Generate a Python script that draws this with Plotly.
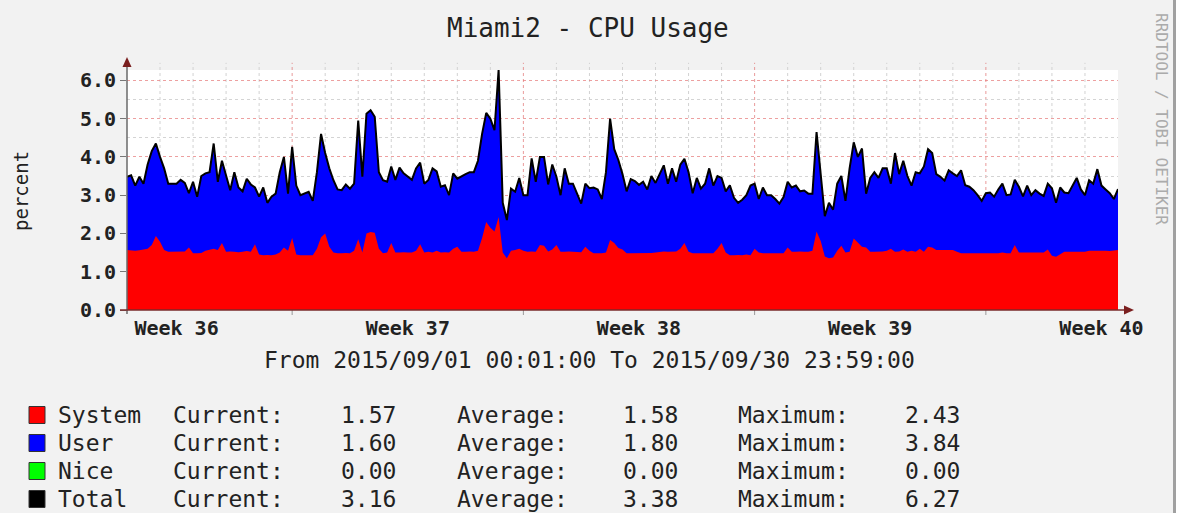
import pandas as pd
import plotly.graph_objects as go

# ---- data: 3-hourly CPU samples for September 2015 (percent) ----
times = pd.date_range("2015-09-01 00:00", periods=241, freq="3h")

total = [
    3.48, 3.52, 3.25, 3.48, 3.3, 3.8, 4.15, 4.35, 4.0, 3.7,
    3.3, 3.3, 3.3, 3.4, 3.32, 3.05, 3.35, 2.96, 3.5, 3.57,
    3.6, 4.35, 3.35, 3.9, 3.5, 3.13, 3.6, 3.2, 3.1, 3.43,
    3.28, 3.2, 2.96, 3.2, 2.8, 2.96, 3.04, 3.6, 4.0, 3.04,
    4.26, 3.25, 3.0, 3.05, 3.09, 2.85, 3.6, 4.6, 4.1, 3.7,
    3.39, 3.15, 3.13, 3.28, 3.17, 3.3, 4.95, 3.48, 5.13, 5.22,
    5.05, 3.6, 3.39, 3.35, 3.75, 3.4, 3.72, 3.57, 3.48, 3.4,
    3.7, 3.85, 3.3, 3.4, 3.7, 3.62, 3.22, 3.26, 3.0, 3.57,
    3.43, 3.5, 3.55, 3.6, 3.6, 3.9, 4.6, 5.15, 5.0, 4.7,
    6.27, 2.8, 2.35, 3.17, 3.09, 3.45, 3.0, 3.0, 3.96, 3.35,
    4.0, 4.0, 3.28, 3.8, 3.48, 3.0, 3.7, 3.3, 3.3, 3.04,
    2.78, 3.3, 3.18, 3.2, 3.15, 2.9, 3.6, 5.0, 4.2, 3.92,
    3.55, 3.1, 3.42, 3.37, 3.27, 3.35, 3.15, 3.5, 3.32, 3.55,
    3.78, 3.3, 3.7, 3.35, 3.8, 3.95, 3.6, 3.05, 3.45, 3.17,
    3.3, 3.7, 3.25, 3.5, 3.45, 3.1, 3.26, 2.93, 2.8, 2.88,
    3.0, 3.25, 3.3, 2.9, 3.2, 3.0, 3.0, 2.9, 2.78, 2.95,
    3.35, 3.2, 3.25, 3.1, 3.12, 3.04, 3.04, 4.65, 3.6, 2.45,
    2.8, 2.62, 3.3, 3.5, 2.85, 3.7, 4.38, 4.0, 4.22, 3.04,
    3.45, 3.6, 3.45, 3.7, 3.7, 3.3, 4.1, 3.55, 3.9, 3.5,
    3.25, 3.6, 3.57, 3.75, 4.2, 4.1, 3.55, 3.48, 3.38, 3.65,
    3.57, 3.5, 3.65, 3.26, 3.22, 3.13, 3.0, 2.85, 3.05, 3.07,
    2.96, 3.15, 3.3, 3.0, 3.02, 3.4, 3.22, 2.97, 3.25, 3.0,
    3.13, 3.04, 2.98, 3.3, 3.18, 2.8, 3.2, 3.07, 3.05, 3.25,
    3.45, 3.15, 3.0, 3.39, 3.3, 3.68, 3.25, 3.15, 3.05, 2.9,
    3.16,
]

system = [
    1.57, 1.56, 1.55, 1.56, 1.57, 1.6, 1.7, 1.93, 1.78, 1.57,
    1.52, 1.52, 1.53, 1.52, 1.53, 1.63, 1.48, 1.48, 1.49, 1.55,
    1.57, 1.6, 1.57, 1.75, 1.52, 1.53, 1.52, 1.51, 1.52, 1.54,
    1.52, 1.72, 1.45, 1.43, 1.44, 1.43, 1.45, 1.5, 1.63, 1.55,
    1.88, 1.45, 1.43, 1.43, 1.44, 1.43, 1.6, 1.9, 2.0, 1.65,
    1.5, 1.48, 1.48, 1.49, 1.48, 1.55, 1.85, 1.5, 2.0, 2.04,
    2.02, 1.6, 1.48, 1.5, 1.75, 1.5, 1.5, 1.51, 1.5, 1.5,
    1.55, 1.72, 1.5, 1.52, 1.5, 1.55, 1.5, 1.51, 1.5, 1.6,
    1.65, 1.52, 1.52, 1.53, 1.52, 1.55, 1.88, 2.3, 2.15, 2.05,
    2.43, 1.5, 1.35, 1.55, 1.57, 1.6, 1.55, 1.52, 1.53, 1.52,
    1.7, 1.68, 1.53, 1.58, 1.7, 1.52, 1.52, 1.53, 1.52, 1.52,
    1.51, 1.65, 1.55, 1.48, 1.48, 1.48, 1.5, 1.83, 1.75, 1.62,
    1.58, 1.48, 1.48, 1.48, 1.48, 1.48, 1.48, 1.49, 1.5, 1.52,
    1.53, 1.52, 1.52, 1.53, 1.6, 1.75, 1.52, 1.48, 1.48, 1.48,
    1.48, 1.49, 1.48, 1.6, 1.75, 1.5, 1.43, 1.43, 1.44, 1.43,
    1.45, 1.43, 1.6, 1.5, 1.48, 1.48, 1.48, 1.49, 1.48, 1.48,
    1.63, 1.52, 1.52, 1.53, 1.52, 1.52, 1.55, 2.05, 1.8, 1.4,
    1.35, 1.37, 1.55, 1.68, 1.5, 1.52, 1.87, 1.75, 1.65, 1.63,
    1.52, 1.52, 1.52, 1.53, 1.55, 1.6, 1.52, 1.53, 1.58, 1.52,
    1.55, 1.52, 1.6, 1.52, 1.65, 1.63, 1.57, 1.57, 1.57, 1.56,
    1.57, 1.52, 1.48, 1.48, 1.48, 1.48, 1.49, 1.48, 1.48, 1.49,
    1.48, 1.48, 1.5, 1.48, 1.48, 1.7, 1.5, 1.5, 1.5, 1.51,
    1.5, 1.5, 1.5, 1.58, 1.42, 1.39, 1.45, 1.52, 1.52, 1.52,
    1.53, 1.52, 1.52, 1.55, 1.55, 1.56, 1.55, 1.55, 1.54, 1.55,
    1.57,
]

week_labels = ["Week 36", "Week 37", "Week 38", "Week 39", "Week 40"]
week_label_pos = ["2015-09-02 12:00", "2015-09-09 12:00", "2015-09-16 12:00",
                  "2015-09-23 12:00", "2015-09-30 12:00"]
week_starts = ["2015-09-06", "2015-09-13", "2015-09-20", "2015-09-27"]

legend_names = ["System", "User", "Nice", "Total"]
legend_colors = ["#FF0000", "#0000FF", "#00FF00", "#000000"]
legend_current = ["1.57", "1.60", "0.00", "3.16"]
legend_average = ["1.58", "1.80", "0.00", "3.38"]
legend_maximum = ["2.43", "3.84", "0.00", "6.27"]

# ---- geometry of the canvas (pixels) ----
W, H = 1179, 513
PL, PR, PT, PB = 127, 1118, 70, 310
MONO = "DejaVu Sans Mono"
BG = "#F2F2F2"


def px(x):
    return (x - PL) / (PR - PL)


def py(y):
    return (PB - y) / (PB - PT)


fig = go.Figure()
fig.add_trace(go.Scatter(x=times, y=total, mode="lines", fill="tozeroy",
                         fillcolor="#0000FF", line=dict(width=0, color="#0000FF"),
                         hoverinfo="skip"))
fig.add_trace(go.Scatter(x=times, y=system, mode="lines", fill="tozeroy",
                         fillcolor="#FF0000", line=dict(width=0, color="#FF0000"),
                         hoverinfo="skip"))
fig.add_trace(go.Scatter(x=times, y=total, mode="lines",
                         line=dict(width=2, color="#000000"), hoverinfo="skip"))

shapes = []
# daily (minor) and weekly (major) vertical grid
for d in pd.date_range("2015-09-02", "2015-09-30", freq="D"):
    is_week = d.strftime("%Y-%m-%d") in week_starts
    shapes.append(dict(type="line", xref="x", yref="paper", x0=d, x1=d, y0=0, y1=1.03,
                       layer="below",
                       line=dict(color="rgba(225,120,120,0.75)" if is_week else "#d2d2d2",
                                 width=1, dash="dot")))
    if is_week:
        shapes.append(dict(type="line", xref="x", yref="paper", x0=d, x1=d,
                           y0=0, y1=py(315), line=dict(color="#999999", width=1)))

# axes with arrow heads
shapes.append(dict(type="line", xref="paper", yref="paper", x0=px(127), x1=px(127),
                   y0=py(314), y1=py(64), line=dict(color="#6a6a6a", width=1.5)))
shapes.append(dict(type="path", xref="paper", yref="paper",
                   path=f"M {px(127)},{py(57)} L {px(122.5)},{py(67)} L {px(131.5)},{py(67)} Z",
                   fillcolor="#7a1f1f", line=dict(width=0)))
shapes.append(dict(type="line", xref="paper", yref="paper", x0=px(120), x1=px(1126),
                   y0=py(310), y1=py(310), line=dict(color="#7a2a2a", width=1.5)))
shapes.append(dict(type="path", xref="paper", yref="paper",
                   path=f"M {px(1134)},{py(310)} L {px(1124)},{py(305.5)} L {px(1124)},{py(314.5)} Z",
                   fillcolor="#7a1f1f", line=dict(width=0)))

# right-hand frame edge
shapes.append(dict(type="rect", xref="paper", yref="paper", x0=px(1173), x1=px(1176),
                   y0=py(513), y1=py(0), fillcolor="#a0a0a0", line=dict(width=0)))
shapes.append(dict(type="rect", xref="paper", yref="paper", x0=px(1176), x1=px(1180),
                   y0=py(513), y1=py(0), fillcolor="#ffffff", line=dict(width=0)))

annotations = []
annotations.append(dict(text="Miami2 - CPU Usage", xref="paper", yref="paper",
                        x=px(588), y=py(28), xanchor="center", yanchor="middle",
                        showarrow=False, font=dict(family=MONO, size=26, color="#222222")))
annotations.append(dict(text="percent", xref="paper", yref="paper",
                        x=px(21), y=py(191), xanchor="center", yanchor="middle",
                        textangle=-90, showarrow=False,
                        font=dict(family=MONO, size=19, color="#222222")))
annotations.append(dict(text="RRDTOOL / TOBI OETIKER", xref="paper", yref="paper",
                        x=px(1162), y=py(119), xanchor="center", yanchor="middle",
                        textangle=90, showarrow=False,
                        font=dict(family=MONO, size=16, color="#ababab")))
annotations.append(dict(text="From 2015/09/01 00:01:00 To 2015/09/30 23:59:00",
                        xref="paper", yref="paper", x=px(589), y=py(360),
                        xanchor="center", yanchor="middle", showarrow=False,
                        font=dict(family=MONO, size=23, color="#222222")))

row_y = [415, 443, 471, 499]
legend_font = dict(family=MONO, size=23, color="#222222")
for i, name in enumerate(legend_names):
    yc = row_y[i]
    shapes.append(dict(type="rect", xref="paper", yref="paper",
                       x0=px(29), x1=px(45), y0=py(yc + 8.5), y1=py(yc - 8.5),
                       fillcolor=legend_colors[i], line=dict(color="#333333", width=1)))
    cells = [
        (name, 57, "left"),
        ("Current:", 172, "left"),
        (legend_current[i], 397, "right"),
        ("Average:", 456, "left"),
        (legend_average[i], 679, "right"),
        ("Maximum:", 737, "left"),
        (legend_maximum[i], 961, "right"),
    ]
    for text, xpos, anchor in cells:
        annotations.append(dict(text=text, xref="paper", yref="paper",
                                x=px(xpos), y=py(yc), xanchor=anchor, yanchor="middle",
                                showarrow=False, borderpad=0, font=legend_font))

fig.update_layout(
    width=W, height=H,
    margin=dict(l=PL, r=W - PR, t=PT, b=H - PB, pad=0),
    paper_bgcolor=BG, plot_bgcolor="#FFFFFF",
    showlegend=False,
    shapes=shapes, annotations=annotations,
    xaxis=dict(type="date", range=["2015-09-01 00:01", "2015-10-01 00:00"],
               tickmode="array", tickvals=week_label_pos, ticktext=week_labels,
               ticks="", showgrid=False, zeroline=False, showline=False,
               ticklabelstandoff=4,
               tickfont=dict(family=MONO, size=20, color="#222222", weight="bold")),
    yaxis=dict(range=[0, 6.27], tick0=0, dtick=1, tickformat=".1f",
               ticks="outside", ticklen=6, tickcolor="#777777",
               showgrid=True, gridcolor="rgba(230,120,120,0.7)", griddash="dot",
               minor=dict(dtick=0.5, tick0=0, showgrid=True, gridcolor="#d4d4d4",
                          griddash="dot", ticks=""),
               zeroline=False, showline=False,
               tickfont=dict(family=MONO, size=20, color="#222222", weight="bold")),
)

fig.write_html("out.html")
